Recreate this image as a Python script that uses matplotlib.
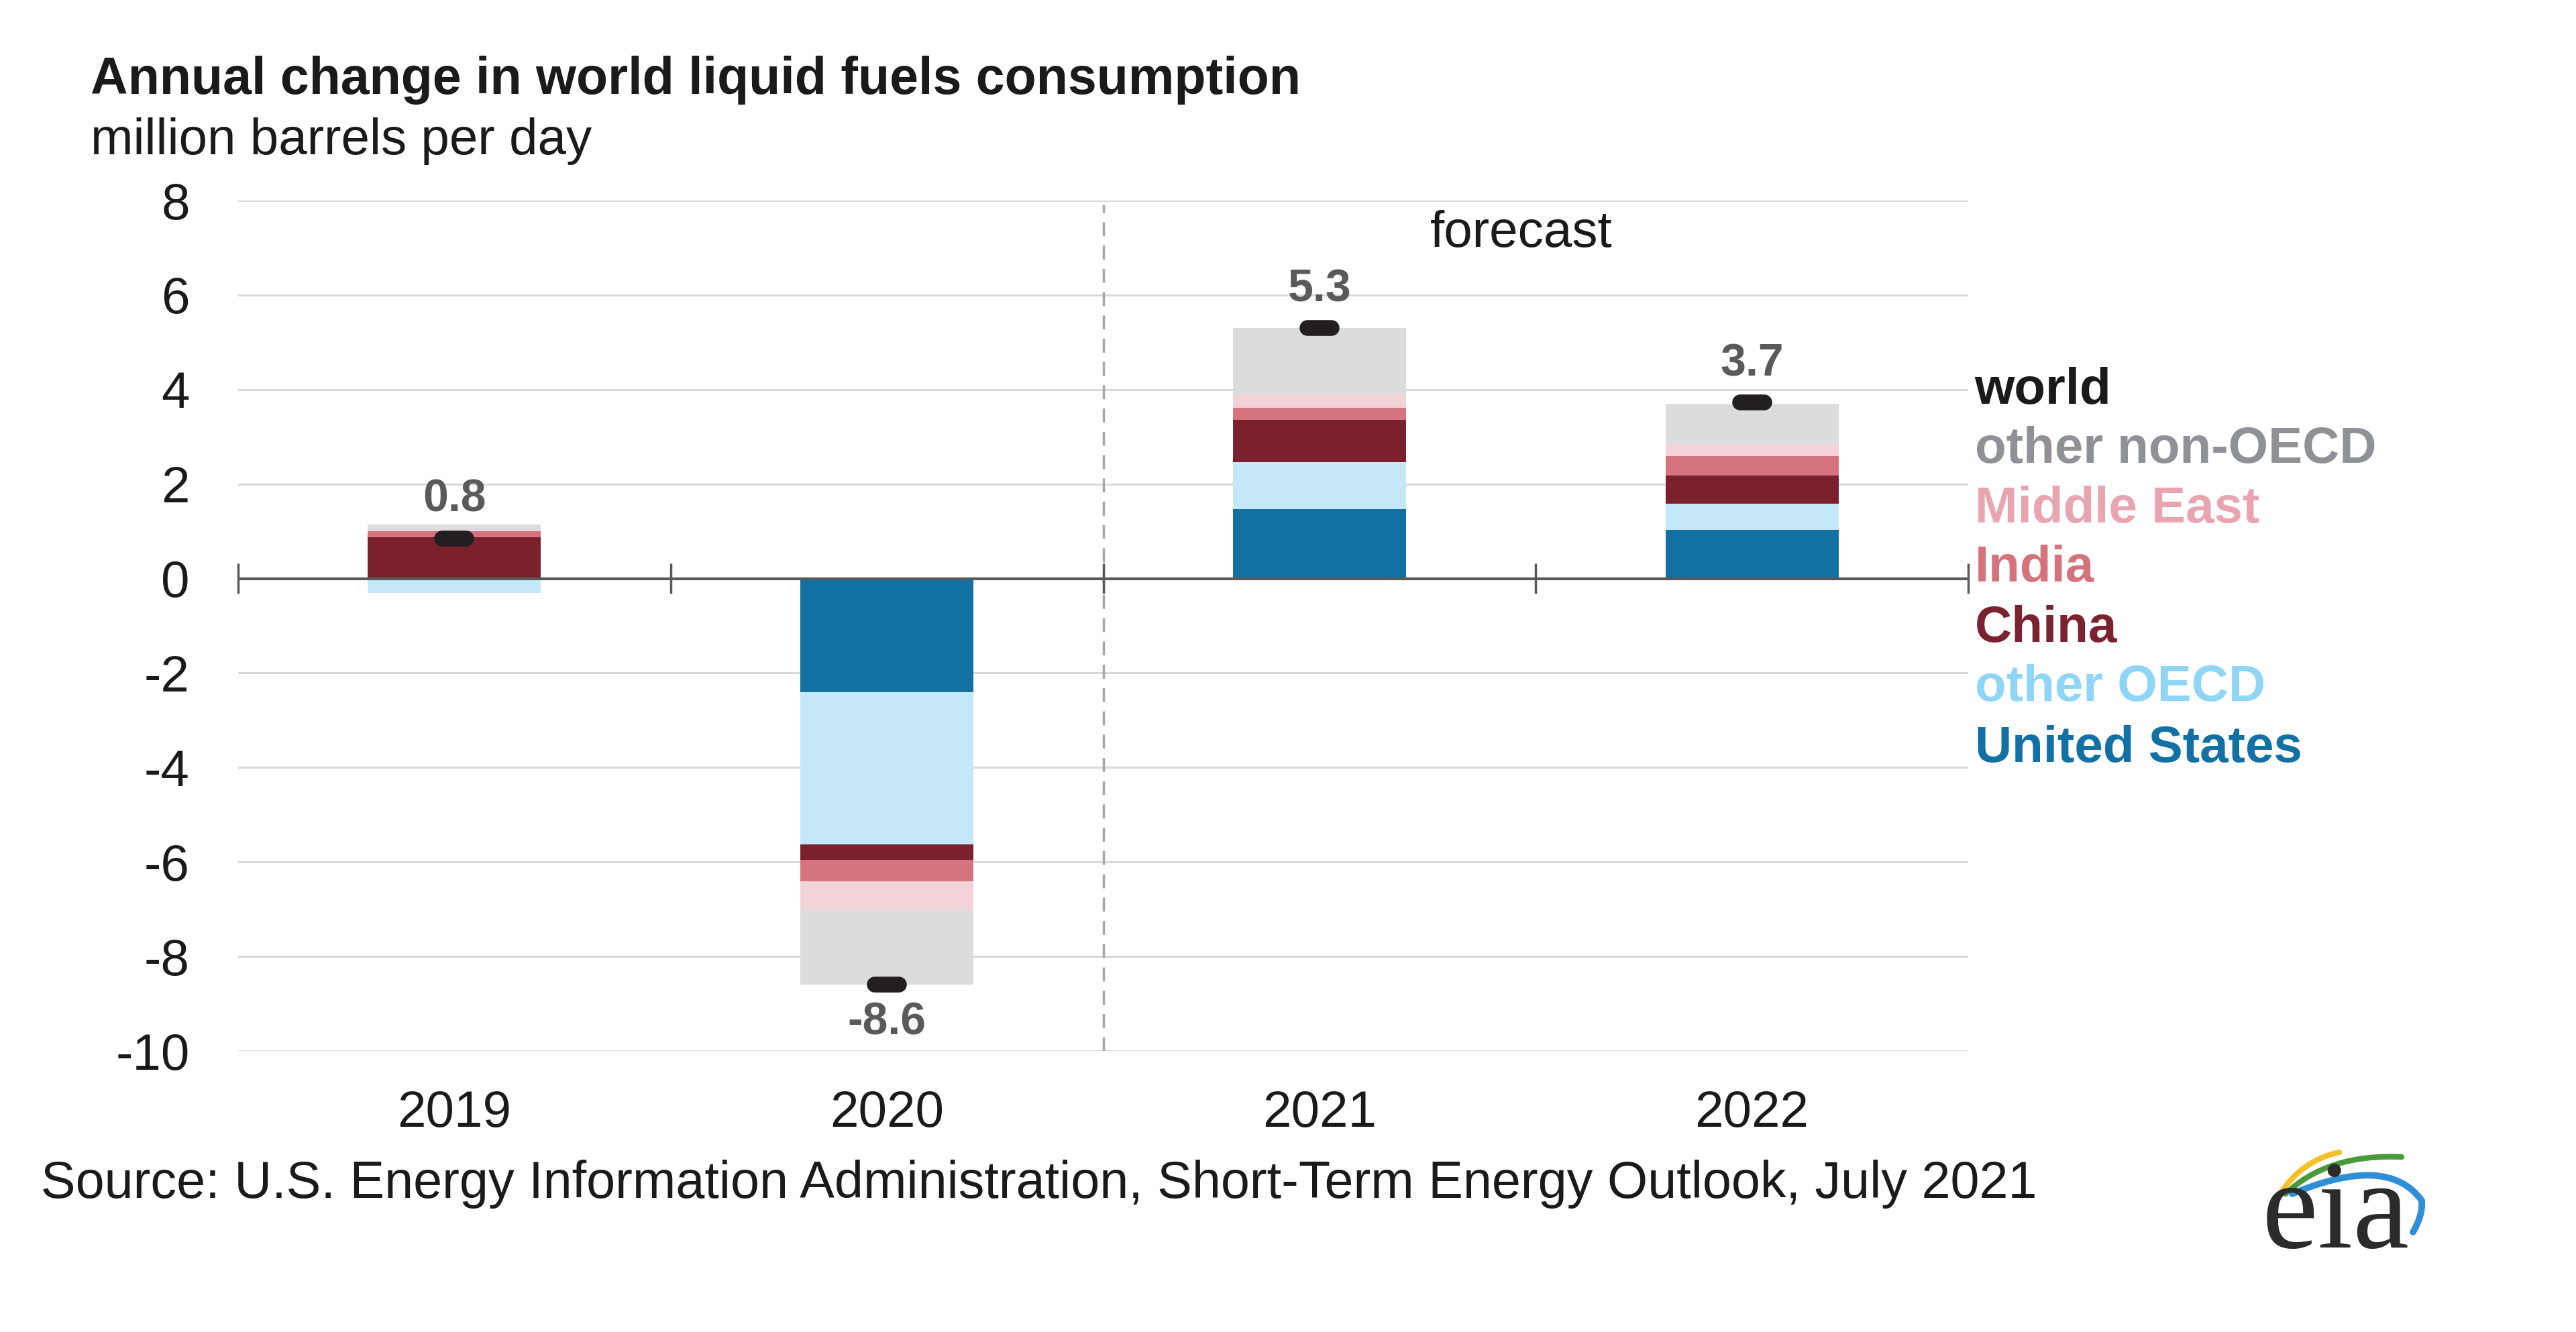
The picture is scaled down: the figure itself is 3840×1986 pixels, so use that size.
import matplotlib
matplotlib.use("Agg")
import matplotlib.pyplot as plt
import numpy as np
from matplotlib.path import Path
from matplotlib.patches import PathPatch

plt.rcParams['font.family'] = ['Liberation Sans', 'DejaVu Sans']

years = ["2019", "2020", "2021", "2022"]
united_states = [0.0, -2.40, 1.47, 1.03]
other_oecd = [-0.30, -3.23, 0.99, 0.55]
china = [0.88, -0.32, 0.90, 0.60]
india = [0.12, -0.46, 0.26, 0.41]
middle_east = [0.02, -0.61, 0.28, 0.26]
other_non_oecd = [0.13, -1.58, 1.40, 0.85]
world = [0.85, -8.60, 5.30, 3.73]
world_labels = ["0.8", "-8.6", "5.3", "3.7"]

series_names = ["United States", "other OECD", "China", "India", "Middle East", "other non-OECD"]
series_values = [united_states, other_oecd, china, india, middle_east, other_non_oecd]
bar_colors = ["#1270a3", "#c5e8f9", "#7b212e", "#d5747e", "#f2d3d7", "#dcdcde"]
legend_colors = ["#1170a4", "#8fd6f6", "#7b2230", "#d5737d", "#e8a5b0", "#8e9196"]

y_ticks = [8, 6, 4, 2, 0, -2, -4, -6, -8, -10]

W, H = 3840, 1986
fig = plt.figure(figsize=(W / 100, H / 100), dpi=100)
fig.patch.set_facecolor("white")

L, R, T, B = 355, 2934, 299, 1567
ax = fig.add_axes([L / W, 1 - B / H, (R - L) / W, (B - T) / H])

x = np.arange(len(years))
width = 0.4
pos_base = np.zeros(len(years))
neg_base = np.zeros(len(years))
for vals, col in zip(series_values, bar_colors):
    v = np.array(vals)
    bottoms = np.where(v >= 0, pos_base, neg_base)
    ax.bar(x, v, width=width, bottom=bottoms, color=col, edgecolor="none", zorder=3)
    pos_base = pos_base + np.where(v >= 0, v, 0)
    neg_base = neg_base + np.where(v < 0, v, 0)

# world markers
ax.hlines(world, x - 0.028, x + 0.028, colors="#231f20", linewidth=17,
          capstyle="round", zorder=5)

# world labels
for xi, w, lab in zip(x, world, world_labels):
    if w >= 0:
        ax.text(xi, w + 0.82, lab, ha="center", va="center", fontsize=49,
                fontweight="bold", color="#5a5a5a", zorder=6)
    else:
        ax.text(xi, w - 0.8, lab, ha="center", va="center", fontsize=49,
                fontweight="bold", color="#5a5a5a", zorder=6)

ax.set_xlim(-0.5, 3.5)
ax.set_ylim(-10, 8)
ax.set_yticks(y_ticks)
ax.set_yticklabels([str(t) for t in y_ticks])
ax.set_xticks(x)
ax.set_xticklabels(years)
ax.tick_params(axis="both", length=0, labelsize=55, colors="#1a1a1a")
ax.tick_params(axis="y", pad=52)
ax.tick_params(axis="x", pad=42)
for s in ax.spines.values():
    s.set_visible(False)
ax.grid(axis="y", color="#d9d9d9", linewidth=2.2, zorder=0)
ax.set_axisbelow(True)

# zero line and category boundary ticks
ax.axhline(0, color="#595959", linewidth=3, zorder=4)
bounds = np.arange(len(years) + 1) - 0.5
ax.vlines(bounds, -0.32, 0.32, colors="#595959", linewidth=2.5, zorder=4, clip_on=False)

# forecast divider
ax.axvline(1.5, ymin=0, ymax=0.995, color="#a6a6a6", linewidth=2.5,
           linestyle=(0, (6, 4)), zorder=2)
ax.text(2.466, 7.3, "forecast", ha="center", va="center", fontsize=55, color="#1a1a1a")

# legend labels
leg_names = ["world"] + series_names[::-1]
leg_cols = ["#1a1a1a"] + legend_colors[::-1]
leg_y = [3.97, 2.72, 1.46, 0.21, -1.06, -2.32, -3.6]
for name, col, yy in zip(leg_names, leg_cols, leg_y):
    ax.text(3.515, yy, name, ha="left", va="center", fontsize=55,
            fontweight="bold", color=col, clip_on=False)

# titles
fig.text(135 / W, 1 - 120 / H, "Annual change in world liquid fuels consumption",
         ha="left", va="center", fontsize=55.5, fontweight="bold", color="#1a1a1a")
fig.text(135 / W, 1 - 211 / H, "million barrels per day",
         ha="left", va="center", fontsize=55, color="#1a1a1a")
fig.text(61 / W, 1 - 1766 / H,
         "Source: U.S. Energy Information Administration, Short-Term Energy Outlook, July 2021",
         ha="left", va="center", fontsize=55.7, color="#1a1a1a")

# eia logo
fig.text(3482 / W, 1 - 1815 / H, "eia", ha="center", va="center", fontsize=136,
         family=["Liberation Serif", "DejaVu Serif"], color="#2b2b2b")

def px(xp, yp):
    return (xp / W, 1 - yp / H)

def curve(pts, col, lw):
    verts = [px(*p) for p in pts]
    codes = [Path.MOVETO] + [Path.CURVE3] * (len(verts) - 1)
    patch = PathPatch(Path(verts, codes), facecolor="none", edgecolor=col,
                      linewidth=lw, transform=fig.transFigure, capstyle="round")
    fig.add_artist(patch)

curve([(3397, 1783), (3430, 1730), (3487, 1718)], "#f5c02a", 6)
curve([(3407, 1780), (3470, 1720), (3580, 1725)], "#4a9a3c", 6)
curve([(3417, 1780), (3560, 1720), (3610, 1790), (3612, 1812), (3597, 1837)], "#2f8fd6", 7)

fig.savefig("out.png", dpi=100, facecolor="white")
